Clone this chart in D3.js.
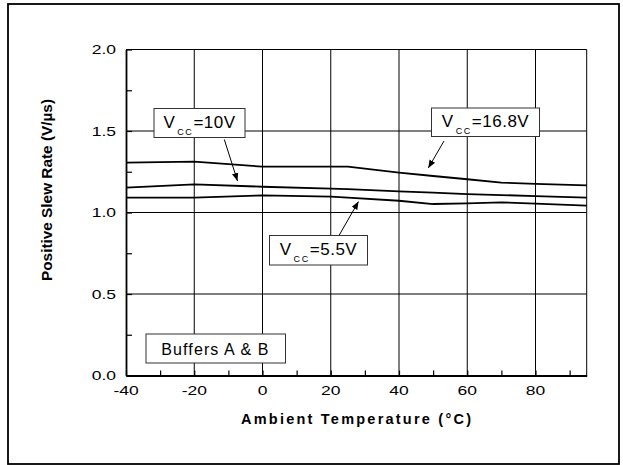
<!DOCTYPE html>
<html>
<head>
<meta charset="utf-8">
<script src="https://cdn.jsdelivr.net/npm/d3@7"></script>
<style>
  html, body { margin: 0; padding: 0; background: #fff; }
  svg { display: block; font-family: "Liberation Sans", Arial, Helvetica, sans-serif; }
</style>
</head>
<body>
<svg id="chart" width="623" height="465"></svg>
<script>
// Ambient temperature (°C) at which the slew rate was measured
const temps = [-40, -20, 0, 20, 25, 40, 50, 60, 70, 80, 95];

// Positive slew rate (V/µs) per supply voltage
const vcc168 = [1.306, 1.312, 1.281, 1.281, 1.281, 1.244, 1.224, 1.204, 1.183, 1.176, 1.167];
const vcc10  = [1.152, 1.173, 1.158, 1.146, 1.143, 1.130, 1.122, 1.113, 1.107, 1.101, 1.091];
const vcc55  = [1.091, 1.091, 1.105, 1.097, 1.091, 1.072, 1.052, 1.056, 1.062, 1.055, 1.042];

const xMajor = [-40, -20, 0, 20, 40, 60, 80];
const xMinor = [-30, -10, 10, 30, 50, 70, 90];
const yMajor = [0.0, 0.5, 1.0, 1.5, 2.0];
const yMinor = [0.25, 0.75, 1.25, 1.75];

const svg = d3.select("#chart");

// outer frame
svg.append("rect")
  .attr("x", 8).attr("y", 4).attr("width", 611).attr("height", 460)
  .attr("fill", "none").attr("stroke", "#000").attr("stroke-width", 1.8);

const x = d3.scaleLinear().domain([-40, 95]).range([126, 586.7]);
const y = d3.scaleLinear().domain([0, 2]).range([375.5, 49.5]);

const plot = svg.append("g");

// grid lines at the major ticks
plot.selectAll(".vgrid").data(xMajor.slice(1)).join("line")
  .attr("x1", d => x(d)).attr("x2", d => x(d))
  .attr("y1", y(0)).attr("y2", y(2))
  .attr("stroke", "#000").attr("stroke-width", 1);
plot.selectAll(".hgrid").data(yMajor.slice(1, -1)).join("line")
  .attr("x1", x(-40)).attr("x2", x(95))
  .attr("y1", d => y(d)).attr("y2", d => y(d))
  .attr("stroke", "#000").attr("stroke-width", 1);

// plot border: top and right
plot.append("line").attr("x1", x(-40)).attr("x2", x(95)).attr("y1", y(2)).attr("y2", y(2))
  .attr("stroke", "#000").attr("stroke-width", 1);
plot.append("line").attr("x1", x(95)).attr("x2", x(95)).attr("y1", y(0)).attr("y2", y(2))
  .attr("stroke", "#000").attr("stroke-width", 1);

// axes with inward ticks
const xAxis = d3.axisBottom(x).tickValues(xMajor.concat(xMinor)).tickSizeInner(-5).tickSizeOuter(0).tickFormat("");
const gx = plot.append("g").attr("transform", `translate(0,${y(0)})`).call(xAxis);
gx.select(".domain").attr("stroke-width", 1.8);
gx.selectAll(".tick line").attr("stroke-width", 1.2);

const yAxis = d3.axisLeft(y).tickValues(yMajor.concat(yMinor)).tickSizeInner(-6).tickSizeOuter(0).tickFormat("");
const gy = plot.append("g").attr("transform", `translate(${x(-40)},0)`).call(yAxis);
gy.select(".domain").attr("stroke-width", 1.8);
gy.selectAll(".tick line").attr("stroke-width", 1.2);

// tick labels (wide face)
const sx = 1.4;
xMajor.forEach(v => {
  svg.append("text")
    .attr("transform", `translate(${x(v)},${y(0) + 19}) scale(${sx},1)`)
    .attr("text-anchor", "middle").attr("font-size", 12.5)
    .text(v);
});
yMajor.forEach(v => {
  svg.append("text")
    .attr("transform", `translate(116,${y(v) + 4.5}) scale(${sx},1)`)
    .attr("text-anchor", "end").attr("font-size", 12.5)
    .text(d3.format(".1f")(v));
});

// axis titles
svg.append("text")
  .attr("x", 356).attr("y", 424)
  .attr("text-anchor", "middle").attr("font-size", 14.5).attr("font-weight", "bold")
  .attr("textLength", 230).attr("lengthAdjust", "spacing")
  .text("Ambient Temperature (°C)");
svg.append("text")
  .attr("transform", "translate(52,190) rotate(-90)")
  .attr("text-anchor", "middle").attr("font-size", 14).attr("font-weight", "bold")
  .attr("textLength", 182).attr("lengthAdjust", "spacingAndGlyphs")
  .text("Positive Slew Rate (V/µs)");

// data curves
const line = d3.line().x(d => x(d[0])).y(d => y(d[1]));
[vcc168, vcc10, vcc55].forEach(vals => {
  plot.append("path")
    .datum(temps.map((t, i) => [t, vals[i]]))
    .attr("d", line)
    .attr("fill", "none").attr("stroke", "#000").attr("stroke-width", 1.8);
});

// arrowhead marker
svg.append("defs").append("marker")
  .attr("id", "head").attr("viewBox", "0 0 10 10")
  .attr("refX", 10).attr("refY", 5)
  .attr("markerWidth", 8).attr("markerHeight", 8)
  .attr("markerUnits", "userSpaceOnUse")
  .attr("orient", "auto")
  .append("path").attr("d", "M0,1 L10,5 L0,9 Z").attr("fill", "#000");

// curve labels: box, text with subscript, pointer arrow
function vccLabel(bx, by, bw, bh, value, arrowFrom, arrowTo) {
  svg.append("rect")
    .attr("x", bx).attr("y", by).attr("width", bw).attr("height", bh)
    .attr("fill", "#fff").attr("stroke", "#333").attr("stroke-width", 1);
  const t = svg.append("text")
    .attr("x", bx + bw / 2).attr("y", by + bh / 2 + 5)
    .attr("text-anchor", "middle").attr("font-size", 17)
    .attr("letter-spacing", 0.5);
  t.append("tspan").text("V");
  t.append("tspan").attr("dy", 7).attr("dx", 2).attr("font-size", 9)
    .attr("letter-spacing", 1.6).text("CC");
  t.append("tspan").attr("dy", -7).text("=" + value + "V");
  svg.append("line")
    .attr("x1", arrowFrom[0]).attr("y1", arrowFrom[1])
    .attr("x2", arrowTo[0]).attr("y2", arrowTo[1])
    .attr("stroke", "#000").attr("stroke-width", 1)
    .attr("marker-end", "url(#head)");
}

vccLabel(154, 108.5, 91, 29, "10", [224.3, 139.5], [237.5, 181]);
vccLabel(431.5, 108, 108, 28.5, "16.8", [444, 141], [428.3, 168]);
vccLabel(269.5, 235.5, 98, 29.5, "5.5", [339.3, 235], [358.5, 201.5]);

// panel note
svg.append("rect")
  .attr("x", 146).attr("y", 334).attr("width", 139.5).attr("height", 29)
  .attr("fill", "#fff").attr("stroke", "#333").attr("stroke-width", 1);
svg.append("text")
  .attr("x", 215.5).attr("y", 354.5)
  .attr("text-anchor", "middle").attr("font-size", 16).attr("letter-spacing", 1.1)
  .text("Buffers A & B");
</script>
</body>
</html>
